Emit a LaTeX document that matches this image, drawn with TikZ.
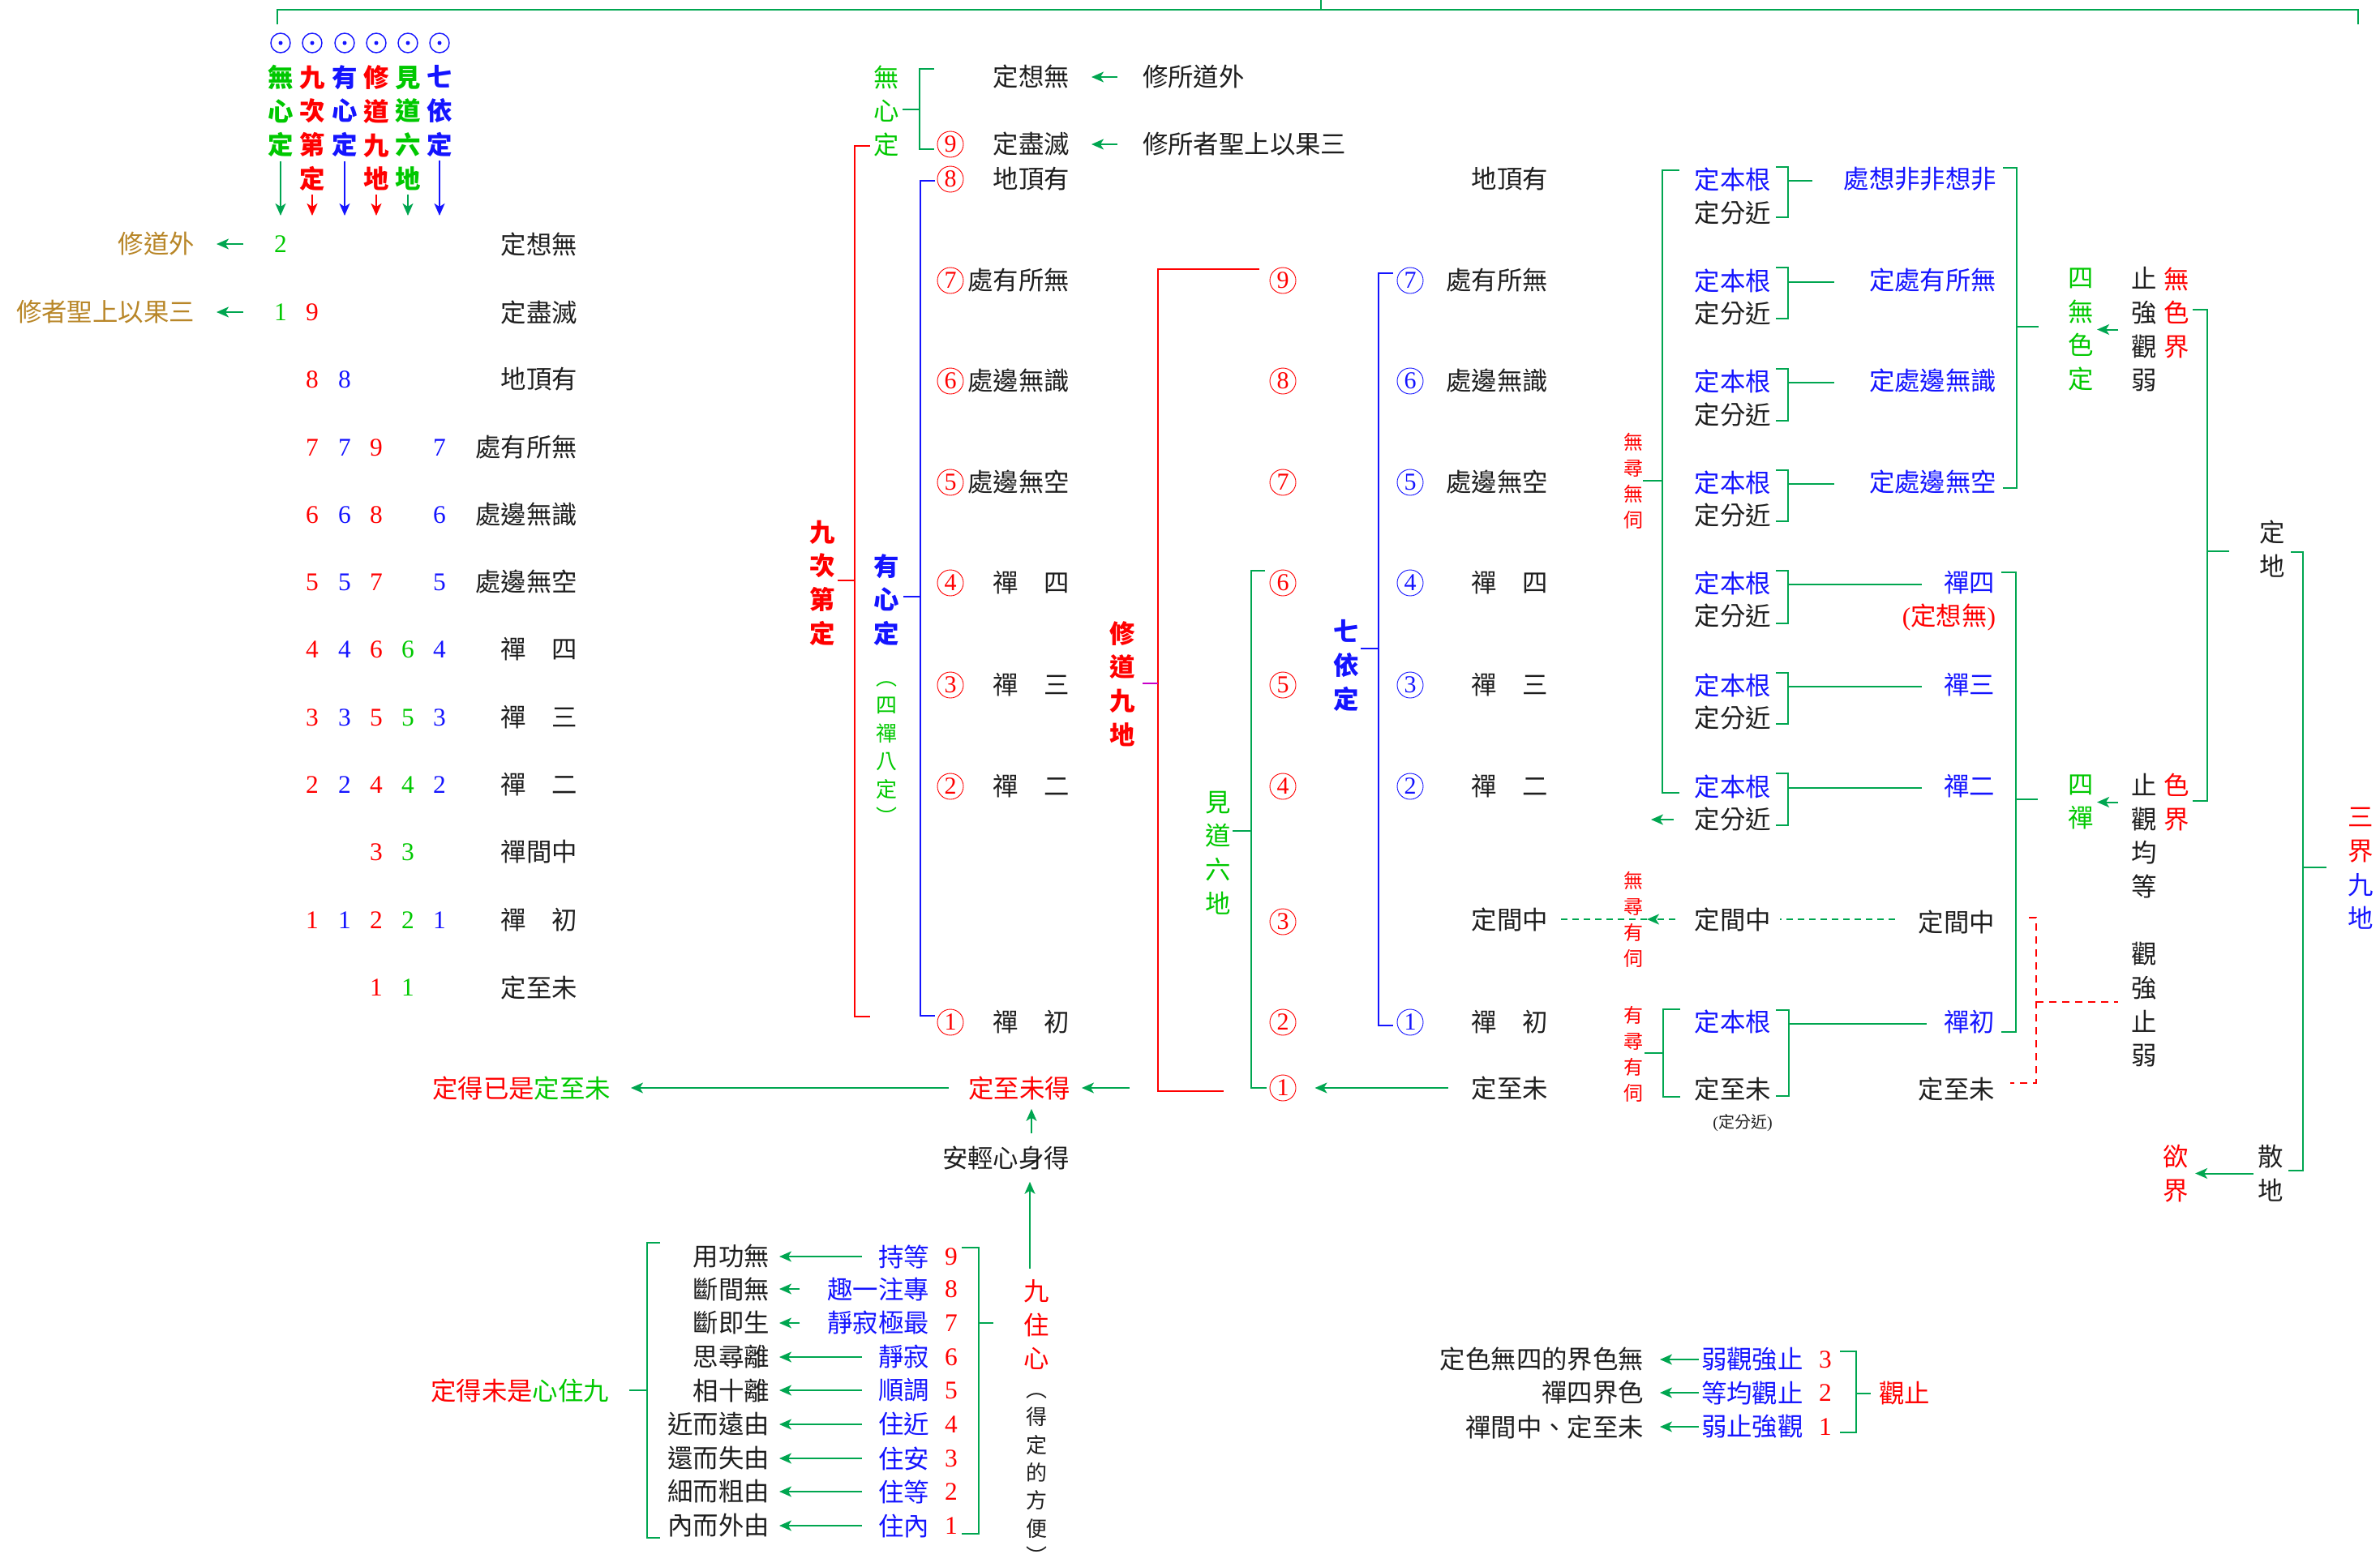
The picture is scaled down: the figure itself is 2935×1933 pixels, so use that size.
\documentclass[tikz,border=0pt]{standalone}
\usepackage{fontspec}
\setmainfont{Liberation Serif}
\newfontfamily\cjk{Noto Sans CJK TC}
\usetikzlibrary{arrows.meta,calc}
\definecolor{tgreen}{RGB}{0,200,0}
\definecolor{lgreen}{RGB}{0,166,80}
\definecolor{tred}{RGB}{255,0,0}
\definecolor{tblue}{RGB}{20,20,255}
\definecolor{tgold}{RGB}{184,134,40}
\definecolor{tblack}{RGB}{30,30,30}
\definecolor{tmag}{RGB}{200,0,200}
\newcommand\Fm{\cjk\fontsize{15.7pt}{20.85pt}\selectfont}
\newcommand\Fmb{\cjk\bfseries\fontsize{15.7pt}{20.85pt}\selectfont}
\newcommand\Fsa{\cjk\fontsize{13pt}{17.2pt}\selectfont}
\newcommand\Fsb{\cjk\fontsize{12pt}{16pt}\selectfont}
\newcommand\Fsc{\cjk\fontsize{10pt}{12pt}\selectfont}
\newcommand\Fd{\rmfamily\fontsize{15.7pt}{20.85pt}\selectfont}
\newcommand\Fcn{\rmfamily\fontsize{15pt}{15pt}\selectfont}
\begin{document}
\begin{tikzpicture}[x=0.5pt,y=-0.5pt,
  every node/.style={inner sep=0pt,outer sep=0pt},
  tx/.style={font=\Fm,text=tblack},
  vt/.style={font=\Fm,align=center},
  vtb/.style={font=\Fmb,align=center},
  dg/.style={font=\Fd},
  cn/.style={circle,line width=0.45pt,minimum size=16pt,font=\Fcn},
  cnr/.style={cn,draw=tred,text=tred},
  cnb/.style={cn,draw=tblue,text=tblue},
  odot/.style={circle,draw=tblue,line width=0.7pt,minimum size=12pt},
  br/.style={line width=1.2pt},
  arr/.style={line width=1pt,-{Stealth[length=7.5pt,width=6.5pt,inset=2pt]}},
  gdash/.style={draw=lgreen,line width=1pt,dash pattern=on 4pt off 3pt},
  rdash/.style={draw=tred,line width=1.2pt,dash pattern=on 4.5pt off 3.5pt}]
\useasboundingbox (0,0) rectangle (2935,1933);

% ---------- top bracket ----------
\draw[br,lgreen] (342,30) -- (342,12) -- (2908,12) -- (2908,30);
\draw[br,lgreen] (1629,0) -- (1629,12);

% ---------- header ----------
\foreach \x [count=\i] in {346,385,425,464,503,542} {
  \node[odot] (od\i) at (\x,53) {};
  \fill[tblue] (od\i.center) circle (2.5);
}
\node[vtb,text=tgreen] (h1) at (346,137) {無\\心\\定};
\node[vtb,text=tred]   (h2) at (385,158) {九\\次\\第\\定};
\node[vtb,text=tblue]  (h3) at (425,137) {有\\心\\定};
\node[vtb,text=tred]   (h4) at (464,158) {修\\道\\九\\地};
\node[vtb,text=tgreen] (h5) at (503,158) {見\\道\\六\\地};
\node[vtb,text=tblue]  (h6) at (542,137) {七\\依\\定};
\coordinate (hb) at (0,266);
\draw[arr,lgreen,shorten <=2.5pt] (h1.south) -- (h1.south |- hb);
\draw[arr,tred,shorten <=2.5pt]   (h2.south) -- (h2.south |- hb);
\draw[arr,tblue,shorten <=2.5pt]  (h3.south) -- (h3.south |- hb);
\draw[arr,tred,shorten <=2.5pt]   (h4.south) -- (h4.south |- hb);
\draw[arr,lgreen,shorten <=2.5pt] (h5.south) -- (h5.south |- hb);
\draw[arr,tblue,shorten <=2.5pt]  (h6.south) -- (h6.south |- hb);

% ---------- left table ----------
\foreach \y/\w [count=\i] in {301/定想無,385/定盡滅,468/地頂有,552/處有所無,635/處邊無識,718/處邊無空,801/禪　四,885/禪　三,968/禪　二,1051/禪間中,1135/禪　初,1218/定至未}
  \node[tx,anchor=east] (L\i) at (712,\y) {\w};
\node[dg,text=tgreen] (dA) at (346,301) {2};
\node[dg,text=tgreen] (dB) at (346,385) {1};
\foreach \y/\d in {385/9,468/8,552/7,635/6,718/5,801/4,885/3,968/2,1135/1}
  \node[dg,text=tred] (cb\d) at (385,\y) {\d};
\foreach \y/\d in {468/8,552/7,635/6,718/5,801/4,885/3,968/2,1135/1}
  \node[dg,text=tblue] (cc\d) at (425,\y) {\d};
\foreach \y/\d in {552/9,635/8,718/7,801/6,885/5,968/4,1051/3,1135/2,1218/1}
  \node[dg,text=tred] (cd\d) at (464,\y) {\d};
\foreach \y/\d in {801/6,885/5,968/4,1051/3,1135/2,1218/1}
  \node[dg,text=tgreen] (ce\d) at (503,\y) {\d};
\foreach \y/\d in {552/7,635/6,718/5,801/4,885/3,968/2,1135/1}
  \node[dg,text=tblue] (cf\d) at (542,\y) {\d};
\node[tx,text=tgold,anchor=east] (g1) at (240,301) {修道外};
\node[tx,text=tgold,anchor=east] (g2) at (240,385) {修者聖上以果三};
\draw[arr,lgreen,shorten <=19pt,shorten >=13.5pt] (dA.west) -- (g1.east);
\draw[arr,lgreen,shorten <=19pt,shorten >=13.5pt] (dB.west) -- (g2.east);

% ---------- middle: 無心定 / 九次第定 / 有心定 ----------
\node[vt,text=tgreen] (wxd) at (1093,137) {無\\心\\定};
\draw[br,lgreen] (1152,85) -- (1134,85) -- (1134,184) -- (1152,184);
\draw[br,lgreen] (1113,135) -- (1134,135);
\node[vtb,text=tred] (jcd) at (1014,719) {九\\次\\第\\定};
\draw[br,tred] (1073,180) -- (1054,180) -- (1054,1254) -- (1073,1254);
\draw[br,tred] (1033,716) -- (1054,716);
\node[vtb,text=tblue] (yxd) at (1093,740) {有\\心\\定};
\draw[br,tblue] (1153,223) -- (1135,223) -- (1135,1253) -- (1153,1253);
\draw[br,tblue] (1114,736) -- (1135,736);
\node[font=\Fsa,align=center,text=tgreen] (sbd) at (1093,929) {︵\\四\\禪\\八\\定\\︶};

\node[tx,anchor=east] (M0) at (1319,95) {定想無};
\foreach \n/\y/\w in {9/178/定盡滅,8/221/地頂有,7/346/處有所無,6/470/處邊無識,5/595/處邊無空,4/719/禪　四,3/845/禪　三,2/970/禪　二,1/1261/禪　初} {
  \node[cnr] (m\n) at (1172,\y) {\n};
  \node[tx,anchor=east] (M\n) at (1319,\y) {\w};
}
\node[tx,anchor=west] (s1) at (1409,95) {修所道外};
\node[tx,anchor=west] (s2) at (1409,178) {修所者聖上以果三};
\draw[arr,lgreen,shorten <=15.5pt,shorten >=13.5pt] (s1.west) -- (M0.east);
\draw[arr,lgreen,shorten <=15.5pt,shorten >=13.5pt] (s2.west) -- (M9.east);

% ---------- 修道九地 ----------
\node[vtb,text=tred] (xdjd) at (1384,843.5) {修\\道\\九\\地};
\draw[br,tred] (1553,332) -- (1428,332) -- (1428,1346) -- (1509,1346);
\draw[br,tmag] (1409,843) -- (1428,843);
\foreach \n/\y in {9/346,8/470,7/595,6/719,5/845,4/970,3/1137,2/1261,1/1342}
  \node[cnr] (r\n) at (1582,\y) {\n};

% ---------- 見道六地 ----------
\node[vt,text=tgreen] (jdld) at (1502,1052) {見\\道\\六\\地};
\draw[br,lgreen] (1560,704) -- (1543,704) -- (1543,1342) -- (1562,1342);
\draw[br,lgreen] (1520,1025) -- (1543,1025);

% ---------- 七依定 ----------
\node[vtb,text=tblue] (qyd) at (1660,821) {七\\依\\定};
\draw[br,tblue] (1718,337) -- (1700,337) -- (1700,1265) -- (1718,1265);
\draw[br,tblue] (1678,800) -- (1700,800);
\foreach \n/\y/\w in {7/346/處有所無,6/470/處邊無識,5/595/處邊無空,4/719/禪　四,3/845/禪　三,2/970/禪　二,1/1261/禪　初} {
  \node[cnb] (b\n) at (1739,\y) {\n};
  \node[tx,anchor=east] (Q\n) at (1909,\y) {\w};
}
\node[tx,anchor=east] (Q8) at (1909,221) {地頂有};
\node[tx,anchor=east] (Qm) at (1909,1134) {定間中};
\node[tx,anchor=east] (Q0) at (1909,1342) {定至未};
\draw[arr,lgreen,shorten <=14.5pt,shorten >=11.75pt] (Q0.west) -- (r1.east);

% ---------- bottom centre ----------
\node[tx,text=tred,anchor=east] (zwd) at (1320,1342) {定至未得};
\coordinate (rbout) at (1393,1342);
\draw[arr,lgreen,shorten >=7pt] (rbout) -- (zwd.east);
\node[tx,anchor=east] (dyd) at (753,1342) {\textcolor{tred}{定得已是}\textcolor{tgreen}{定至未}};
\draw[arr,lgreen,shorten <=12.2pt,shorten >=12.5pt] (zwd.west) -- (dyd.east);
\node[tx,anchor=east] (aq) at (1319,1428) {安輕心身得};
\coordinate (upx) at (1272,0);
\coordinate (upy) at (1270,0);
\draw[arr,lgreen,shorten <=7.5pt,shorten >=5.6pt] (aq.north -| upx) -- (zwd.south -| upx);
\node[vt,text=tred] (jzx) at (1278,1634) {九\\住\\心};
\node[font=\Fsa,align=center,text=tblack] (ddf) at (1278,1824) {︵\\得\\定\\的\\方\\便\\︶};
\draw[arr,lgreen,shorten <=6.8pt,shorten >=7.6pt] (jzx.north -| upy) -- (aq.south -| upy);

% ---------- nine dwellings ----------
\foreach \n/\y/\bt/\kt/\sh in {9/1550/持等/用功無/10,8/1590/趣一注專/斷間無/17,7/1632/靜寂極最/斷即生/17,6/1674/靜寂/思尋離/10,5/1715/順調/相十離/10,4/1757/住近/近而遠由/10,3/1799/住安/還而失由/10,2/1840/住等/細而粗由/10,1/1882/住內/內而外由/10} {
  \node[dg,text=tred] (nd\n) at (1173,\y) {\n};
  \node[tx,text=tblue,anchor=east] (nb\n) at (1146,\y) {\bt};
  \node[tx,anchor=east] (nk\n) at (949,\y) {\kt};
  \draw[arr,lgreen,shorten <=\sh pt,shorten >=6pt] (nb\n.west) -- (nk\n.east);
}
\draw[br,lgreen] (1186,1539) -- (1207,1539) -- (1207,1892) -- (1186,1892);
\draw[br,lgreen] (1207,1632) -- (1225,1632);
\draw[br,lgreen] (814,1533) -- (798,1533) -- (798,1897) -- (814,1897);
\draw[br,lgreen] (776,1715) -- (798,1715);
\node[tx,anchor=east] (dwx) at (751,1715) {\textcolor{tred}{定得未是}\textcolor{tgreen}{心住九}};

% ---------- right: 定本根 / 定分近 ----------
\node[font=\Fsb,align=center,text=tred] (wxwc) at (2014,593) {無\\尋\\無\\伺};
\draw[br,lgreen] (2071,210) -- (2050,210) -- (2050,978) -- (2071,978);
\draw[br,lgreen] (2026,593) -- (2050,593);
\foreach \i/\ya/\yb/\tp/\bm/\le in {1/221/263/206/268/2235,2/346/387/330/393/2262,3/470/512/455/519/2262,4/595/636/580/643/2262,5/719/760/704/769/2370,6/845/886/830/893/2370,7/970/1011/954/1018/2370} {
  \node[tx,text=tblue,anchor=east] (bg\i) at (2184,\ya) {定本根};
  \node[tx,anchor=east] (fj\i) at (2184,\yb) {定分近};
  \draw[br,lgreen] (2190,\tp) -- (2205,\tp) -- (2205,\bm) -- (2190,\bm);
  \draw[br,lgreen] (2205,\ya+2) -- (\le,\ya+2);
}
\node[tx,text=tblue,anchor=east] (R1) at (2462,221) {處想非非想非};
\node[tx,text=tblue,anchor=east] (R2) at (2462,346) {定處有所無};
\node[tx,text=tblue,anchor=east] (R3) at (2462,470) {定處邊無識};
\node[tx,text=tblue,anchor=east] (R4) at (2462,595) {定處邊無空};
\node[tx,text=tblue,anchor=east] (R5) at (2460,719) {禪四};
\node[tx,text=tred,anchor=east] (R5b) at (2461,762) {{\rmfamily(}定想無{\rmfamily)}};
\node[tx,text=tblue,anchor=east] (R6) at (2460,845) {禪三};
\node[tx,text=tblue,anchor=east] (R7) at (2460,970) {禪二};
\coordinate (fjtip) at (2036,1011);
\draw[arr,lgreen,shorten <=12.9pt] (fj7.west) -- (fjtip);

% 四無色定
\draw[br,lgreen] (2470,207) -- (2487,207) -- (2487,602) -- (2470,602);
\draw[br,lgreen] (2487,403) -- (2514,403);
\node[vt,text=tgreen] (swsd) at (2566,406.5) {四\\無\\色\\定};
\node[vt,text=tblack] (zqgr) at (2644,406.5) {止\\強\\觀\\弱};
\draw[arr,lgreen,shorten <=8pt,shorten >=2.2pt] (zqgr.west) -- (swsd.east);
\node[vt,text=tred] (wsj) at (2684,386) {無\\色\\界};
\draw[br,lgreen] (2704,382) -- (2722,382) -- (2722,988) -- (2704,988);
\draw[br,lgreen] (2722,680) -- (2749,680);
\node[vt,text=tblack] (dd) at (2802,677) {定\\地};
\draw[br,lgreen] (2825,681) -- (2840,681) -- (2840,1444) -- (2822,1444);
\draw[br,lgreen] (2840,1070) -- (2869,1070);
\node[vt] (sjjd) at (2911,1071.5) {\textcolor{tred}{三}\\\textcolor{tred}{界}\\\textcolor{tblue}{九}\\\textcolor{tblue}{地}};
\node[vt,text=tblack] (sd) at (2800,1447.5) {散\\地};
\node[vt,text=tred] (yj) at (2683,1447.5) {欲\\界};
\draw[arr,lgreen,shorten <=2.6pt,shorten >=4.2pt] (sd.west) -- (yj.east);

% 四禪
\draw[br,lgreen] (2468,706) -- (2486,706) -- (2486,1273) -- (2468,1273);
\draw[br,lgreen] (2486,986) -- (2513,986);
\node[vt,text=tgreen] (sc) at (2566,989.5) {四\\禪};
\node[vt,text=tblack] (zgjd) at (2644,1031) {止\\觀\\均\\等};
\draw[arr,lgreen,shorten <=8pt,shorten >=2.2pt] (zgjd.west |- sc.east) -- (sc.east);
\node[vt,text=tred] (sj) at (2684,989.5) {色\\界};
\node[vt,text=tblack] (gqzr) at (2644,1239.5) {觀\\強\\止\\弱};
\draw[rdash] (2502,1132) -- (2511,1132) -- (2511,1336) -- (2479,1336);
\draw[rdash] (2511,1236) -- (2612,1236);

% 定間中 rows
\node[font=\Fsb,align=center,text=tred] (wxyc) at (2014,1134.5) {無\\尋\\有\\伺};
\node[tx,anchor=east] (mjz) at (2184,1134) {定間中};
\node[tx,anchor=east] (rjz) at (2460,1137) {定間中};
\draw[gdash,shorten <=14.4pt,shorten >=5.5pt] (rjz.west |- mjz.east) -- (mjz.east);
\coordinate (tipm) at (2031,1134);
\draw[gdash,-{Stealth[length=7.5pt,width=6.5pt,inset=2pt]},shorten <=11.9pt] (mjz.west) -- (tipm);
\draw[gdash,shorten >=5.5pt] (tipm) -- (Qm.east);

% 有尋有伺
\node[font=\Fsb,align=center,text=tred] (ywyc) at (2014,1300) {有\\尋\\有\\伺};
\draw[br,lgreen] (2072,1245) -- (2051,1245) -- (2051,1353) -- (2072,1353);
\draw[br,lgreen] (2028,1299) -- (2051,1299);
\node[tx,text=tblue,anchor=east] (bg8) at (2184,1260) {定本根};
\node[tx,anchor=east] (wz8) at (2184,1343) {定至未};
\node[font=\Fsc,text=tblack] (fjs) at (2149,1385) {{\rmfamily(}定分近{\rmfamily)}};
\draw[br,lgreen] (2190,1246) -- (2206,1246) -- (2206,1352) -- (2190,1352);
\draw[br,lgreen] (2206,1263) -- (2376,1263);
\node[tx,text=tblue,anchor=east] (R8) at (2460,1261) {禪初};
\node[tx,anchor=east] (R9) at (2460,1343) {定至未};

% ---------- legend 觀止 ----------
\foreach \n/\y/\lt/\rt in {3/1677/定色無四的界色無/弱觀強止,2/1718/禪四界色/等均觀止,1/1760/禪間中、定至未/弱止強觀} {
  \node[tx,anchor=east] (lg\n) at (2027,\y) {\lt};
  \node[tx,text=tblue,anchor=west] (lb\n) at (2098,\y) {\rt};
  \node[dg,text=tred] (ln\n) at (2251,\y) {\n};
  \draw[arr,lgreen,shorten <=1.5pt,shorten >=10pt] (lb\n.west) -- (lg\n.east);
}
\draw[br,lgreen] (2269,1667) -- (2289,1667) -- (2289,1767) -- (2269,1767);
\draw[br,lgreen] (2289,1719) -- (2307,1719);
\node[tx,text=tred,anchor=west] (gz) at (2317,1719) {觀止};
\end{tikzpicture}
\end{document}
